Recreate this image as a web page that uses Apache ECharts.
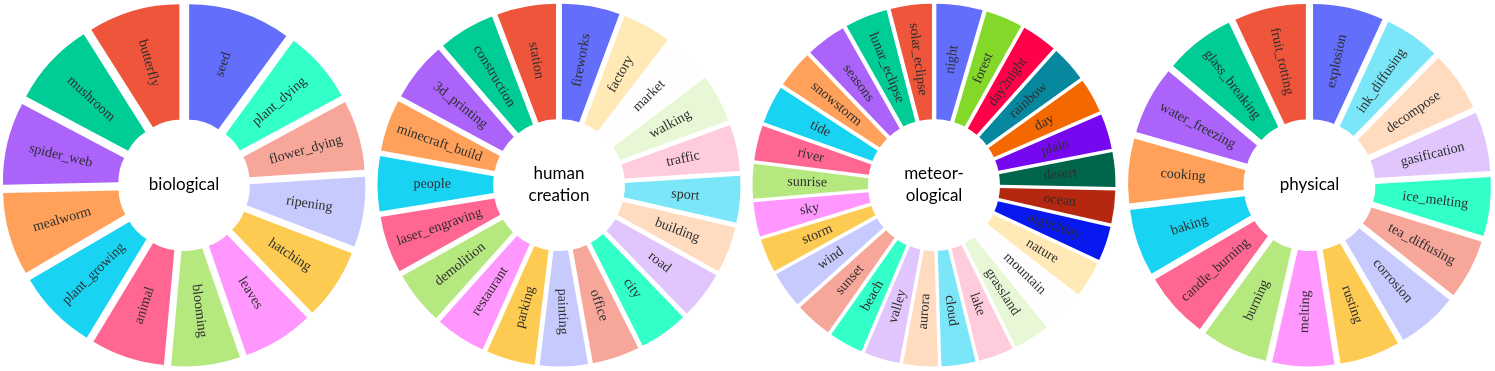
<!DOCTYPE html>
<html>
<head>
<meta charset="utf-8">
<title>categories</title>
<script src="https://cdn.jsdelivr.net/npm/echarts@6/dist/echarts.min.js"></script>
<style>
  html, body { margin: 0; padding: 0; background: #fff; }
  #chart { width: 1495px; height: 371px; }
</style>
</head>
<body>
<div id="chart"></div>
<script>
// slices listed clockwise from 12 o'clock (slice angle)
const bioLabels = ["seed", "plant_dying", "flower_dying", "ripening", "hatching", "leaves", "blooming",
  "animal", "plant_growing", "mealworm", "spider_web", "mushroom", "butterfly"];
const bioValues = [36.1, 25.5, 24.7, 24.7, 25.0, 24.9, 24.3, 26.0, 28.4, 29.2, 29.1, 29.8, 32.3];

const humanLabels = ["fireworks", "factory", "market", "walking", "traffic", "sport", "building", "road",
  "city", "office", "painting", "parking", "restaurant", "demolition", "laser_engraving", "people",
  "minecraft_build", "3d_printing", "construction", "station"];
const humanValues = [20.4, 17.3, 15.2, 17.0, 16.4, 16.5, 16.3, 16.9, 17.3, 16.7, 16.9, 17.2, 17.8, 18.8,
  20.0, 19.4, 18.3, 20.9, 19.9, 20.8];

const meteoLabels = ["night", "forest", "day2night", "rainbow", "day", "plain", "desert", "ocean",
  "night2day", "nature", "mountain", "grassland", "lake", "cloud", "aurora", "valley", "beach", "sunset",
  "wind", "storm", "sky", "sunrise", "river", "tide", "snowstorm", "seasons", "lunar_eclipse", "solar_eclipse"];
const meteoValues = [16.3, 13.0, 12.5, 12.6, 12.2, 12.4, 12.2, 11.6, 12.2, 12.8, 13.2, 12.8, 12.4, 12.0,
  12.2, 12.6, 12.1, 13.1, 12.9, 11.9, 12.1, 12.2, 12.3, 13.4, 13.3, 14.2, 15.0, 14.5];

const physLabels = ["explosion", "ink_diffusing", "decompose", "gasification", "ice_melting", "tea_diffusing",
  "corrosion", "rusting", "melting", "burning", "candle_burning", "baking", "cooking", "water_freezing",
  "glass_breaking", "fruit_rotting"];
const physValues = [24.9, 19.5, 21.2, 20.9, 20.8, 21.1, 21.4, 21.3, 21.8, 23.3, 23.4, 23.5, 22.8, 24.1, 24.7, 25.3];

const centerTitles = ["biological", "human\ncreation", "meteor-\nological", "physical"];

// plotly colorway, then its lightened and darkened extensions
const palette = ["#636EFA", "#EF553B", "#00CC96", "#AB63FA", "#FFA15A", "#19D3F3", "#FF6692", "#B6E880",
  "#FF97FF", "#FECB52",
  "#C6CAFD", "#F7A799", "#33FFC9", "#E0C6FD", "#FFDBC0", "#7AE6F8", "#FFCCDB", "#E8F8D6", "#FFFDFF", "#FFE9B7",
  "#0819EF", "#B5270F", "#00664B", "#7608EF", "#F36900", "#08889E", "#FF0049", "#84D82A"];

const centersX = [184, 559, 934, 1309.5];
const CY = 185;

function pieSeries(labels, values, cx) {
  const n = labels.length;
  return {
    type: "pie",
    center: [cx, CY],
    radius: [49.5, 165],
    startAngle: 90,
    clockwise: true,
    selectedMode: "multiple",
    selectedOffset: 16.5,
    silent: true,
    animation: false,
    avoidLabelOverlap: false,
    label: {
      show: true,
      position: "inside",
      rotate: "radial",
      fontFamily: "'Liberation Serif', 'Times New Roman', serif",
      fontSize: 14,
      color: "#2e2e2e"
    },
    labelLine: { show: false },
    emphasis: { disabled: true },
    data: labels.map((name, i) => ({
      name,
      value: values[i],
      selected: true,
      itemStyle: { color: palette[i === 0 ? 0 : n - i] }
    }))
  };
}

const chart = echarts.init(document.getElementById("chart"));
chart.setOption({
  animation: false,
  series: [
    pieSeries(bioLabels, bioValues, centersX[0]),
    pieSeries(humanLabels, humanValues, centersX[1]),
    pieSeries(meteoLabels, meteoValues, centersX[2]),
    pieSeries(physLabels, physValues, centersX[3])
  ],
  graphic: centerTitles.map((t, k) => ({
    type: "text",
    x: centersX[k],
    y: CY,
    silent: true,
    style: {
      text: t,
      align: "center",
      verticalAlign: "middle",
      fontFamily: "Lato",
      fontSize: 17,
      lineHeight: 22,
      fill: "#000"
    }
  }))
});
</script>
</body>
</html>
